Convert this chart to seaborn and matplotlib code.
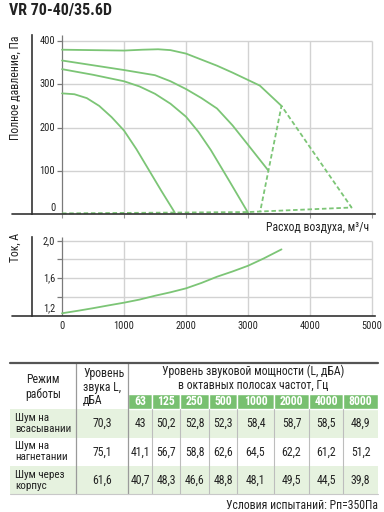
import numpy as np
import pandas as pd
import matplotlib
matplotlib.use("Agg")
import matplotlib.pyplot as plt
from matplotlib.patches import Rectangle
from matplotlib.lines import Line2D
import seaborn as sns

# --- данные ---
title = "VR 70-40/35.6D"

# полное давление, Па (четыре характеристики)
p1_x = [0, 500, 1000, 1300, 1550, 1750, 2000, 2250, 2500, 2750, 3000, 3190, 3540]
p1_y = [380, 379, 378, 380, 381, 379, 371, 357, 343, 327, 310, 297, 250]
p2_x = [0, 500, 1000, 1500, 1750, 2000, 2250, 2500, 2750, 3000, 3325]
p2_y = [355, 344, 333, 321, 307, 289, 268, 244, 205, 160, 101]
p3_x = [0, 500, 1000, 1250, 1500, 1750, 2000, 2200, 2400, 2700, 3000]
p3_y = [335, 322, 307, 295, 278, 255, 225, 190, 148, 76, 3]
p4_x = [0, 200, 400, 600, 800, 1000, 1200, 1400, 1600, 1820]
p4_y = [279, 277, 268, 250, 224, 193, 150, 102, 54, 3]
# рабочая зона (пунктир)
zone_x = [0, 3000, 4670, 3540, 3195]
zone_y = [1.5, 4.5, 15, 250, 5]

# ток, А
cur_x = [0, 250, 500, 750, 1000, 1250, 1500, 1750, 2000, 2250, 2500, 2750, 3000, 3250, 3540]
cur_y = [1.226, 1.252, 1.28, 1.31, 1.339, 1.372, 1.413, 1.45, 1.492, 1.55, 1.616, 1.672,
         1.733, 1.81, 1.908]

x_ticks = [0, 1000, 2000, 3000, 4000, 5000]
p_ticks = [0, 100, 200, 300, 400]
i_grid = [1.2, 1.4, 1.6, 1.8, 2.0]
i_ticks = [1.2, 1.6, 2.0]

# таблица шума
freqs = ["63", "125", "250", "500", "1000", "2000", "4000", "8000"]
modes = ["Шум на\nвсасывании", "Шум на\nнагнетании", "Шум через\nкорпус"]
total = [70.3, 75.1, 61.6]
octave = [
    [43, 50.2, 52.8, 52.3, 58.4, 58.7, 58.5, 48.9],
    [41.1, 56.7, 58.8, 62.6, 64.5, 62.2, 61.2, 51.2],
    [40.7, 48.3, 46.6, 48.8, 48.1, 49.5, 44.5, 39.8],
]

sns.set_theme(style="white")
plt.rcParams["font.family"] = ["Roboto Condensed", "DejaVu Sans"]

GREEN = "#7cc576"
HEAD = "#78c070"
LIGHT = "#e6f2df"
GRID = "#d2d2d2"
DARK = "#7a7a7a"
TXT = "#222222"


def fmt(v):
    return f"{v:g}".replace(".", ",")


fig = plt.figure(figsize=(3.84, 5.12), dpi=100)


def px_ax(left, top, right, bottom):
    return fig.add_axes([left / 384, 1 - bottom / 512, (right - left) / 384, (bottom - top) / 512])


# подписи и таблица в пикселях
tax = fig.add_axes([0, 0, 1, 1])
tax.set_xlim(0, 384)
tax.set_ylim(512, 0)
tax.axis("off")

# ---------------- давление ----------------
ax1 = px_ax(32, 35, 375, 214)
ax1.set_xlim(-484, 5048)
ax1.set_ylim(0, 414)
ax1.patch.set_alpha(0)
ax1.hlines(p_ticks[1:], 0, 5000, color=GRID, lw=1.0, zorder=0)
ax1.vlines(x_ticks[1:], 0, 400, color=GRID, lw=1.0, zorder=0)
ax1.vlines(0, 0, 414, color=DARK, lw=0.9, zorder=0)
ax1.hlines(p_ticks[1:], -80, 0, color=DARK, lw=0.9, zorder=0)
for xs, ys in [(p1_x, p1_y), (p2_x, p2_y), (p3_x, p3_y), (p4_x, p4_y)]:
    sns.lineplot(x=xs, y=ys, ax=ax1, color=GREEN, lw=1.3, sort=False,
                 estimator=None, clip_on=False)
sns.lineplot(x=zone_x, y=zone_y, ax=ax1, color=GREEN, lw=1.3, sort=False,
             estimator=None, linestyle=(0, (2.5, 1.5)), clip_on=False)
for v in p_ticks:
    ax1.text(-110, v + (14 if v == 0 else 0), str(v), ha="right", va="center",
             fontsize=7.5, color=TXT)
ax1.set_xticks(x_ticks)
ax1.set_xticklabels([])
ax1.set_yticks([])
ax1.tick_params(axis="x", bottom=True, length=3, width=0.8, color="#999999")

# ---------------- ток ----------------
ax2 = px_ax(32, 237, 375, 315.7)
ax2.set_xlim(-484, 5048)
ax2.set_ylim(1.2, 2.04)
ax2.patch.set_alpha(0)
ax2.hlines(i_grid[1:], 0, 5000, color=GRID, lw=1.0, zorder=0)
ax2.vlines(x_ticks[1:], 1.2, 2.0, color=GRID, lw=1.0, zorder=0)
ax2.vlines(0, 1.2, 2.04, color=DARK, lw=0.9, zorder=0)
ax2.hlines(i_grid[1:], -80, 0, color=DARK, lw=0.9, zorder=0)
sns.lineplot(x=cur_x, y=cur_y, ax=ax2, color=GREEN, lw=1.3, estimator=None)
for v in i_ticks:
    ax2.text(-110, v + (0.08 if v == 1.2 else 0), f"{v:.1f}".replace(".", ","),
             ha="right", va="center", fontsize=7.5, color=TXT)
ax2.set_xticks(x_ticks)
ax2.set_xticklabels([str(t) for t in x_ticks], fontsize=7.5, color=TXT)
ax2.set_yticks([])
ax2.tick_params(axis="x", length=0, pad=4)

for ax in (ax1, ax2):
    sns.despine(ax=ax)
    for s in ("left", "bottom"):
        ax.spines[s].set_color("#333333")
        ax.spines[s].set_linewidth(1.2)
    ax.add_line(Line2D([-20 / 343, 0], [0, 0], transform=ax.transAxes,
                       color="#333333", lw=1.2, clip_on=False))

# подписи
tax.text(9, 10.5, title, fontsize=11.5, fontweight="bold", color=TXT, ha="left", va="center")
tax.text(15, 35, "Полное давление, Па", rotation=90, ha="center", va="top", fontsize=8.5, color=TXT)
tax.text(15, 233, "Ток, А", rotation=90, ha="center", va="top", fontsize=8.5, color=TXT)
tax.text(369, 228, "Расход воздуха, м³/ч", ha="right", va="center", fontsize=8.5, color=TXT)

# ---------------- таблица ----------------
cols = [10, 76, 128, 152, 180, 209, 237, 274, 309, 343, 378]
t_top, g_top, g_bot = 363, 394.3, 409
rows = [409, 437.7, 466, 494.3]

for i in range(3):
    if i != 1:
        tax.add_patch(Rectangle((cols[0], rows[i]), cols[-1] - cols[0], rows[i + 1] - rows[i],
                                fc=LIGHT, ec="none"))
for j, f in enumerate(freqs):
    x0, x1 = cols[j + 2], cols[j + 3]
    tax.add_patch(Rectangle((x0, g_top), x1 - x0, g_bot - g_top, fc=HEAD, ec="white", lw=1.0))
    tax.text((x0 + x1) / 2, (g_top + g_bot) / 2, f, color="white", ha="center", va="center",
             fontsize=8.5, fontweight="bold")
    if j > 0:
        tax.plot([x0, x0], [rows[0], rows[-1]], color="#bdbdbd", lw=0.8)

tax.plot([cols[1], cols[1]], [t_top, rows[-1]], color="#9a9a9a", lw=0.9)
tax.plot([cols[2], cols[2]], [t_top, rows[-1]], color="#9a9a9a", lw=0.9)
tax.plot([cols[0], cols[-1]], [t_top, t_top], color="#555555", lw=1.6)
tax.plot([cols[0], cols[-1]], [rows[-1], rows[-1]], color="#c8c8c8", lw=0.8)

tax.text(43, 387, "Режим\nработы", ha="center", va="center", fontsize=8.5, color=TXT, linespacing=1.15)
tax.text(83, 387, "Уровень\nзвука L,\nдБА", ha="left", va="center", fontsize=8.5, color=TXT, linespacing=1.05)
tax.text(253, 378.5, "Уровень звуковой мощности (L, дБА)\nв октавных полосах частот, Гц",
         ha="center", va="center", fontsize=8.5, color=TXT, linespacing=1.1)

for i in range(3):
    yc = (rows[i] + rows[i + 1]) / 2
    tax.text(15, yc, modes[i], ha="left", va="center", fontsize=8, color=TXT, linespacing=1.1)
    tax.text((cols[1] + cols[2]) / 2, yc, fmt(total[i]), ha="center", va="center", fontsize=8.5, color=TXT)
    for j, v in enumerate(octave[i]):
        tax.text((cols[j + 2] + cols[j + 3]) / 2, yc, fmt(v), ha="center", va="center",
                 fontsize=8.5, color=TXT)

tax.text(378, 505.5, "Условия испытаний: Рп=350Па", ha="right", va="center", fontsize=8.5, color=TXT)

fig.savefig("out.png", dpi=100)
